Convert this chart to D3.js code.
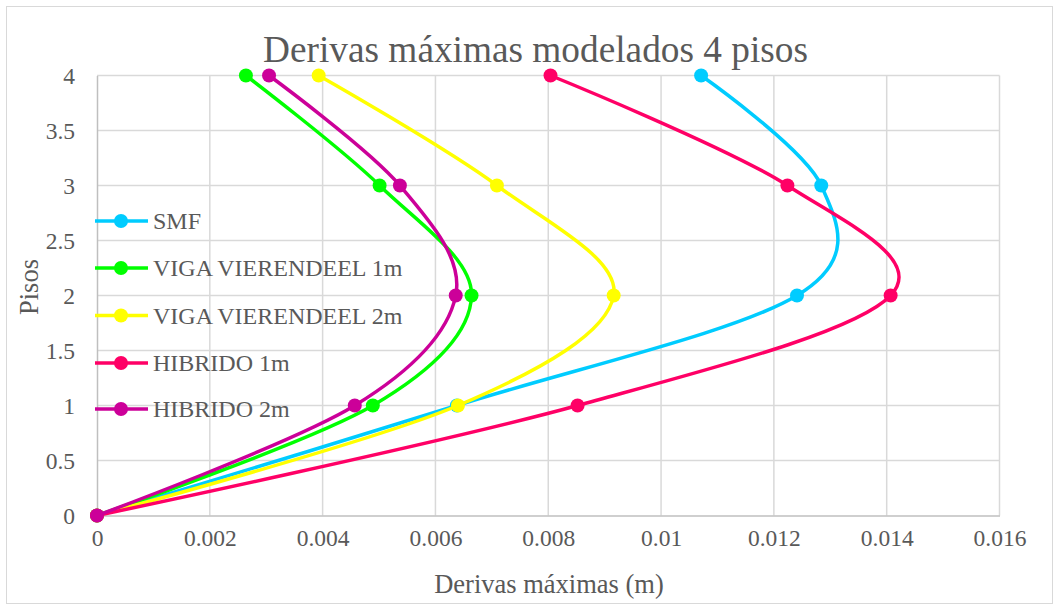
<!DOCTYPE html>
<html>
<head>
<meta charset="utf-8">
<script src="https://cdnjs.cloudflare.com/ajax/libs/d3/7.8.5/d3.min.js"></script>
<style>
  html, body { margin: 0; padding: 0; background: #fff; }
  svg { display: block; }
  text { font-family: "Liberation Serif", "Times New Roman", serif; fill: #595959; }
</style>
</head>
<body>
<svg id="chart" width="1059" height="610"></svg>
<script>
// ---- data ----
const pisos = [0, 1, 2, 3, 4];
const seriesNames = ["SMF", "VIGA VIERENDEEL 1m", "VIGA VIERENDEEL 2m", "HIBRIDO 1m", "HIBRIDO 2m"];
const smf = [0, 0.00638, 0.01241, 0.01284, 0.01071];
const vigaV1m = [0, 0.00489, 0.00664, 0.00501, 0.00264];
const vigaV2m = [0, 0.00640, 0.00916, 0.00709, 0.00393];
const hibrido1m = [0, 0.00852, 0.01407, 0.01224, 0.00804];
const hibrido2m = [0, 0.00457, 0.00636, 0.00537, 0.00305];
const seriesColors = ["#00CCFF", "#00FF00", "#FFFF00", "#FF0066", "#CC0099"];
const xTicks = [0, 0.002, 0.004, 0.006, 0.008, 0.01, 0.012, 0.014, 0.016];
const xTickLabels = ["0", "0.002", "0.004", "0.006", "0.008", "0.01", "0.012", "0.014", "0.016"];
const yTicks = [0, 0.5, 1, 1.5, 2, 2.5, 3, 3.5, 4];
const yTickLabels = ["0", "0.5", "1", "1.5", "2", "2.5", "3", "3.5", "4"];
const titleText = "Derivas máximas modelados 4 pisos";
const xTitle = "Derivas máximas (m)";
const yTitle = "Pisos";

const allSeries = [smf, vigaV1m, vigaV2m, hibrido1m, hibrido2m];

// ---- layout ----
const svg = d3.select("#chart");
const plot = { left: 97, right: 999.5, top: 75.5, bottom: 515.5 };
const FONT = '"Liberation Serif", "Times New Roman", serif';

svg.append("rect").attr("x", 6.5).attr("y", 6.5).attr("width", 1046).attr("height", 597)
  .attr("fill", "#fff").attr("stroke", "#d9d9d9").attr("stroke-width", 1);

const x = d3.scaleLinear().domain([0, 0.016]).range([plot.left, plot.right]);
const y = d3.scaleLinear().domain([0, 4]).range([plot.bottom, plot.top]);

// gridlines
const grid = svg.append("g");
grid.selectAll("line.v").data(xTicks.slice(1)).enter().append("line")
  .attr("x1", d => x(d)).attr("x2", d => x(d))
  .attr("y1", plot.top).attr("y2", plot.bottom)
  .attr("stroke", "#d9d9d9").attr("stroke-width", 1.5);
grid.selectAll("line.h").data(yTicks.slice(1)).enter().append("line")
  .attr("x1", plot.left).attr("x2", plot.right)
  .attr("y1", d => y(d)).attr("y2", d => y(d))
  .attr("stroke", "#d9d9d9").attr("stroke-width", 1.5);

// axes
const xAxis = d3.axisBottom(x).tickValues(xTicks).tickSize(0).tickPadding(14)
  .tickFormat((d, i) => xTickLabels[i]);
const gx = svg.append("g").attr("transform", `translate(0,${plot.bottom})`).call(xAxis);
gx.attr("font-family", null);
gx.select(".domain").attr("stroke", "#bfbfbf").attr("stroke-width", 1.5);
gx.selectAll("text").attr("font-size", 23.5).attr("fill", "#595959").style("font-family", FONT);

const yAxis = d3.axisLeft(y).tickValues(yTicks).tickSize(0).tickPadding(22)
  .tickFormat((d, i) => yTickLabels[i]);
const gy = svg.append("g").attr("transform", `translate(${plot.left},0)`).call(yAxis);
gy.attr("font-family", null);
gy.select(".domain").attr("stroke", "#bfbfbf").attr("stroke-width", 1.5);
gy.selectAll("text").attr("font-size", 23.5).attr("fill", "#595959").style("font-family", FONT);

// titles
svg.append("text").attr("x", 535.5).attr("y", 61.5).attr("text-anchor", "middle")
  .attr("font-size", 37.3).text(titleText);
svg.append("text").attr("x", 549).attr("y", 593).attr("text-anchor", "middle")
  .attr("font-size", 26.5).text(xTitle);
svg.append("text").attr("transform", "translate(38,287) rotate(-90)")
  .attr("text-anchor", "middle").attr("font-size", 26.5).text(yTitle);

// series
const line = d3.line().x(d => x(d[0])).y(d => y(d[1])).curve(d3.curveCardinal.tension(0));
allSeries.forEach((vals, i) => {
  const pts = vals.map((v, j) => [v, pisos[j]]);
  const g = svg.append("g");
  g.append("path").attr("d", line(pts)).attr("fill", "none")
    .attr("stroke", seriesColors[i]).attr("stroke-width", 3.5).attr("stroke-linejoin", "round");
  g.selectAll("circle").data(pts).enter().append("circle")
    .attr("cx", d => x(d[0])).attr("cy", d => y(d[1])).attr("r", 7)
    .attr("fill", seriesColors[i]);
});

// legend
const legendY = [221, 268, 315.5, 363, 409];
const lg = svg.append("g");
seriesNames.forEach((name, i) => {
  const ly = legendY[i];
  lg.append("line").attr("x1", 95).attr("x2", 148).attr("y1", ly).attr("y2", ly)
    .attr("stroke", seriesColors[i]).attr("stroke-width", 3.5);
  lg.append("circle").attr("cx", 121).attr("cy", ly).attr("r", 7).attr("fill", seriesColors[i]);
  lg.append("text").attr("x", 153).attr("y", ly + 8).attr("font-size", 24).text(name);
});
</script>
</body>
</html>
